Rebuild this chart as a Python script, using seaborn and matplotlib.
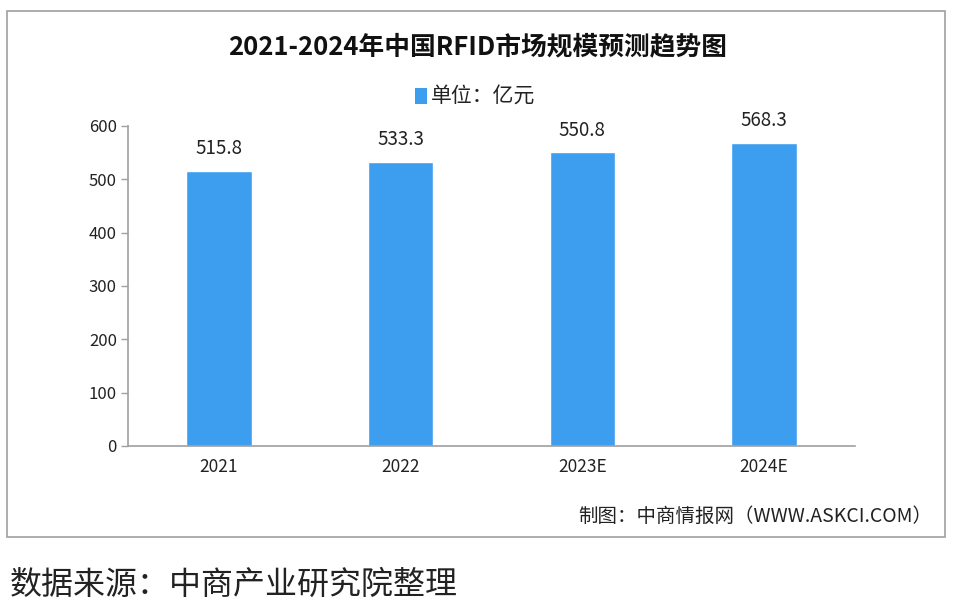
import matplotlib
matplotlib.use("Agg")
import matplotlib.pyplot as plt
import seaborn as sns
import pandas as pd
from matplotlib.patches import Rectangle

categories = ["2021", "2022", "2023E", "2024E"]
values = [515.8, 533.3, 550.8, 568.3]
value_labels = ["515.8", "533.3", "550.8", "568.3"]
y_ticks = [0, 100, 200, 300, 400, 500, 600]
title = "2021-2024年中国RFID市场规模预测趋势图"
legend_label = "单位：亿元"
credit = "制图：中商情报网（WWW.ASKCI.COM）"
source = "数据来源：中商产业研究院整理"

sns.set_theme(style="white")
plt.rcParams['font.family'] = ['Noto Sans CJK SC', 'DejaVu Sans']

df = pd.DataFrame({"year": categories, "value": values})
bar_color = "#3d9ef0"

fig = plt.figure(figsize=(9.55, 6.12), dpi=100)
fig.patch.set_facecolor("white")
# frame box
fig.patches.append(Rectangle((7/955, 1-537/612), (945-7)/955, (537-11)/612,
                             transform=fig.transFigure, fill=False,
                             edgecolor="#a0a0a0", linewidth=1.2))

ax = fig.add_axes([128/955, 1-446/612, (855-128)/955, 320/612])
sns.barplot(data=df, x="year", y="value", color=bar_color, width=0.36,
            saturation=1, ax=ax, legend=False)
ax.set_xlim(-0.5, len(categories)-0.5)
ax.set_ylim(0, 600)
ax.set_yticks(y_ticks)
ax.set_yticklabels([str(t) for t in y_ticks], fontsize=12, color="#222222")
ax.set_xticks(range(len(categories)))
ax.set_xticklabels(categories, fontsize=12.5, color="#222222")
ax.tick_params(axis="x", which="major", length=0, pad=9)
ax.set_xticks([i - 0.5 for i in range(len(categories)+1)], minor=True)
ax.tick_params(axis="x", which="minor", length=6, width=1, color="#a0a0a0", direction="out")
ax.tick_params(axis="y", length=5, width=1, color="#a0a0a0", direction="out", pad=3, left=True)
for s in ["top", "right"]:
    ax.spines[s].set_visible(False)
for s in ["left", "bottom"]:
    ax.spines[s].set_color("#a0a0a0")
    ax.spines[s].set_linewidth(1.2)
ax.set_xlabel("")
ax.set_ylabel("")

for i, (v, lab) in enumerate(zip(values, value_labels)):
    ax.text(i, v + 22, lab, ha="center", va="bottom", fontsize=13.5, color="#222222")

fig.text(0.5, 1-47/612, title, ha="center", va="center", fontsize=18.5,
         fontweight="bold", color="#111111")
fig.patches.append(Rectangle((415/955, 1-104/612), 12/955, 16/612,
                             transform=fig.transFigure, facecolor=bar_color,
                             edgecolor="none"))
fig.text(431/955, 1-96/612, legend_label, ha="left", va="center", fontsize=15, color="#222222")
fig.text(932/955, 1-516/612, credit, ha="right", va="center", fontsize=14, color="#222222")
fig.text(10/955, 1-585/612, source, ha="left", va="center", fontsize=23, color="#222222")

fig.savefig("out.png", dpi=100)
